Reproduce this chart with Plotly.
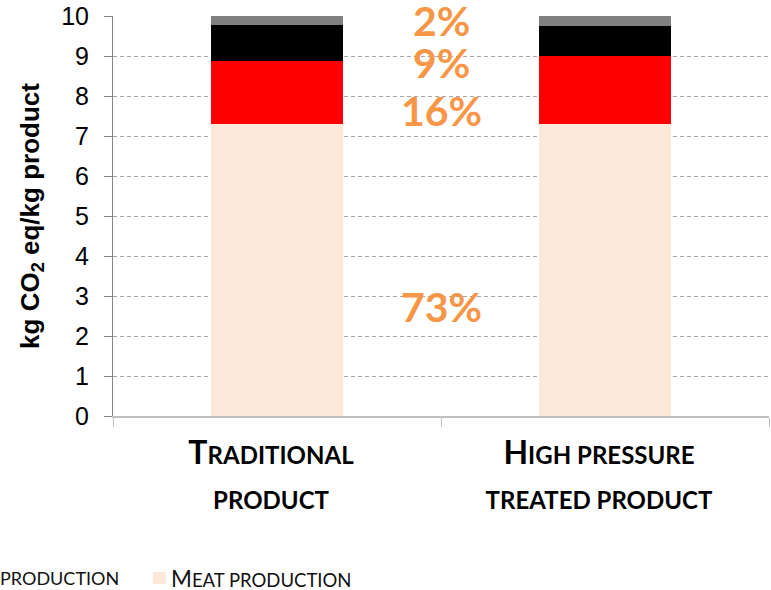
import plotly.graph_objects as go

# Emissions per kg of product, stacked by stage (kg CO2 eq / kg product)
categories = ["Traditional product", "High pressure treated product"]
meat_production = [7.30, 7.30]
stage_red = [1.58, 1.70]
stage_black = [0.90, 0.76]
stage_grey = [0.22, 0.24]
y_ticks = list(range(0, 11))
legend_fragment = "production"
legend_label = "Meat production"

colors = ["#FDE9D9", "#FF0000", "#000000", "#808080"]
stacks = [meat_production, stage_red, stage_black, stage_grey]
label_y = [2.74, 7.64, 8.85, 9.88]   # vertical placement of the share labels


def small_caps(text, big, small):
    out = []
    for ch in text:
        if ch.isupper():
            out.append(f"<span style='font-size:{big}px'>{ch}</span>")
        else:
            out.append(f"<span style='font-size:{small}px'>{ch.upper()}</span>")
    return "".join(out)


def wrap_label(text):
    words = text.split(" ")
    if len(words) > 2:
        lines = [" ".join(words[:2]), " ".join(words[2:])]
    else:
        lines = words
    return "<br>".join(small_caps(l, 32, 24) for l in lines)


fig = go.Figure()
for vals, col in zip(stacks, colors):
    fig.add_trace(go.Bar(
        x=categories, y=vals, marker=dict(color=col, line=dict(width=0)),
        showlegend=False, hoverinfo="skip",
    ))

# share of each stage in the traditional product's total
total = sum(s[0] for s in stacks)
annotations = []
for vals, ly in zip(stacks, label_y):
    share = round(100 * vals[0] / total)
    annotations.append(dict(
        x=0.5, xref="paper", y=ly, yref="y", text=f"{share}%", showarrow=False,
        font=dict(family="Lato", size=41, color="#F79646", weight="bold"),
        xanchor="center", yanchor="middle",
    ))

# legend row
annotations.append(dict(
    x=-115 / 656, xref="paper", y=-0.405, yref="paper",
    text=small_caps(legend_fragment, 22, 18), showarrow=False,
    font=dict(family="Lato", size=18, color="#111111"),
    xanchor="left", yanchor="middle",
))
annotations.append(dict(
    x=(169 - 113) / 656, xref="paper", y=-0.405, yref="paper",
    text=small_caps(legend_label, 22.5, 18.5), showarrow=False,
    font=dict(family="Lato", size=18, color="#111111"),
    xanchor="left", yanchor="middle",
))
shapes = [dict(
    type="rect", xref="paper", yref="paper",
    x0=(153 - 113) / 656, x1=(166 - 113) / 656, y0=-0.42, y1=-0.39,
    fillcolor=colors[0], line=dict(width=0),
)]

fig.update_layout(
    width=771, height=590,
    margin=dict(l=113, r=2, t=16, b=174),
    barmode="stack", bargap=0.6,
    plot_bgcolor="white", paper_bgcolor="white",
    annotations=annotations, shapes=shapes,
)
fig.update_xaxes(
    tickmode="array", tickvals=categories,
    ticktext=[wrap_label(c) for c in categories],
    tickfont=dict(family="Lato", size=35, color="#000000", weight="bold"),
    showline=True, linecolor="#BFBFBF", linewidth=1.5,
    ticks="outside", tickson="boundaries", ticklen=9, tickcolor="#BFBFBF",
    ticklabelstandoff=4, ticklabelshift=-6,
    range=[-0.5, 1.5],
)
fig.update_yaxes(
    range=[0, 10], tickvals=y_ticks,
    tickfont=dict(family="Arial", size=25, color="#000000"),
    showline=True, linecolor="#868686", linewidth=1,
    ticks="outside", ticklen=8, tickcolor="#868686",
    showgrid=True, gridcolor="#A6A6A6", griddash="4px,3px", gridwidth=1,
    zeroline=False, ticklabelstandoff=10,
    title=dict(text="<b>kg CO<sub>2</sub> eq/kg product</b>",
               font=dict(family="Arial", size=26, color="#000000"), standoff=14),
)

fig.write_html("out.html")
